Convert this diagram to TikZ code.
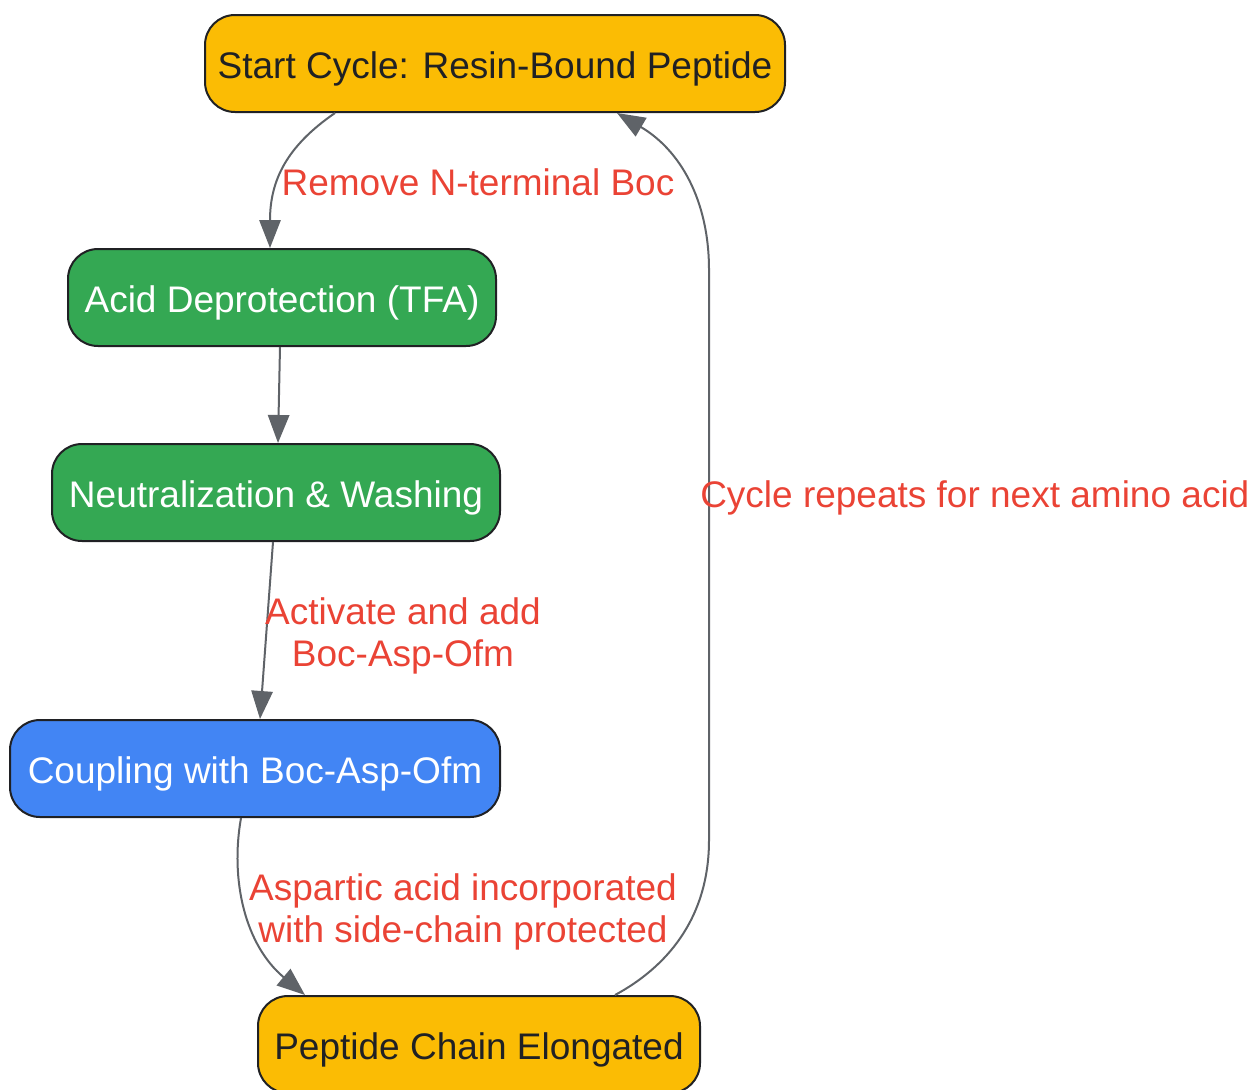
\documentclass[tikz,border=0pt]{standalone}
\usepackage{fontspec}
\setmainfont{Liberation Sans}
\usetikzlibrary{arrows.meta}
\definecolor{cyellow}{HTML}{FBBC04}
\definecolor{cgreen}{HTML}{34A853}
\definecolor{cblue}{HTML}{4285F4}
\definecolor{cred}{HTML}{EA4335}
\definecolor{cedge}{HTML}{5F6368}
\definecolor{cborder}{HTML}{202124}
\definecolor{ctext}{HTML}{202124}
\tikzset{
  box/.style={draw=cborder, line width=1.5pt, rounded corners=22.5pt,
    minimum height=72.75pt, inner sep=0pt, text height=21.8pt, text depth=0pt,
    font=\fontsize{27.75pt}{31.5pt}\selectfont},
  ybox/.style={box, fill=cyellow, text=ctext},
  gbox/.style={box, fill=cgreen, text=white},
  bbox/.style={box, fill=cblue, text=white},
  conn/.style={draw=cedge, line width=1.5pt,
    -{Triangle[length=21pt,width=16pt]}},
  elabel/.style={text=cred, inner sep=0pt, align=center,
    font=\fontsize{27.75pt}{31.5pt}\selectfont},
}
\begin{document}
\begin{tikzpicture}[x=0.75pt,y=-0.75pt]
\useasboundingbox (0,0) rectangle (1255,1089);
\node[ybox, minimum width=435pt] (start) at (495,63.5) {Start Cycle: Resin-Bound Peptide};
\node[gbox, minimum width=321pt] (acid) at (282,297.5) {Acid Deprotection (TFA)};
\node[gbox, minimum width=336pt] (neut) at (276,492.5) {Neutralization \& Washing};
\node[bbox, minimum width=367.5pt] (coup) at (255,768.5) {Coupling with Boc-Asp-Ofm};
\node[ybox, minimum width=331.5pt] (elong) at (479,1044.5) {Peptide Chain Elongated};

\draw[conn] ([xshift=-120pt]start.south) .. controls (287,146) and (270,180) .. ([xshift=-9pt]acid.north);
\draw[conn] ([xshift=-1.5pt]acid.south) -- ([xshift=1.5pt]neut.north);
\draw[conn] ([xshift=-2.25pt]neut.south) -- ([xshift=3.75pt]coup.north);
\draw[conn] ([xshift=-10.5pt]coup.south) .. controls (230,880) and (245,945) .. ([xshift=-130.5pt]elong.north);
\draw[conn] ([xshift=102pt]elong.north) .. controls (665,968) and (709,920) .. (709,840)
  -- (709,270) .. controls (709,200) and (680,150) .. ([xshift=91.5pt]start.south);

\node[elabel] (l1) at (478,182) {Remove N-terminal Boc};
\node[elabel] (l2) at (403,636) {Activate and add\\Boc-Asp-Ofm};
\node[elabel] (l3) at (463,912) {Aspartic acid incorporated\\with side-chain protected};
\node[elabel, anchor=west] (l4) at (700,498) {Cycle repeats for next amino acid};
\end{tikzpicture}
\end{document}
